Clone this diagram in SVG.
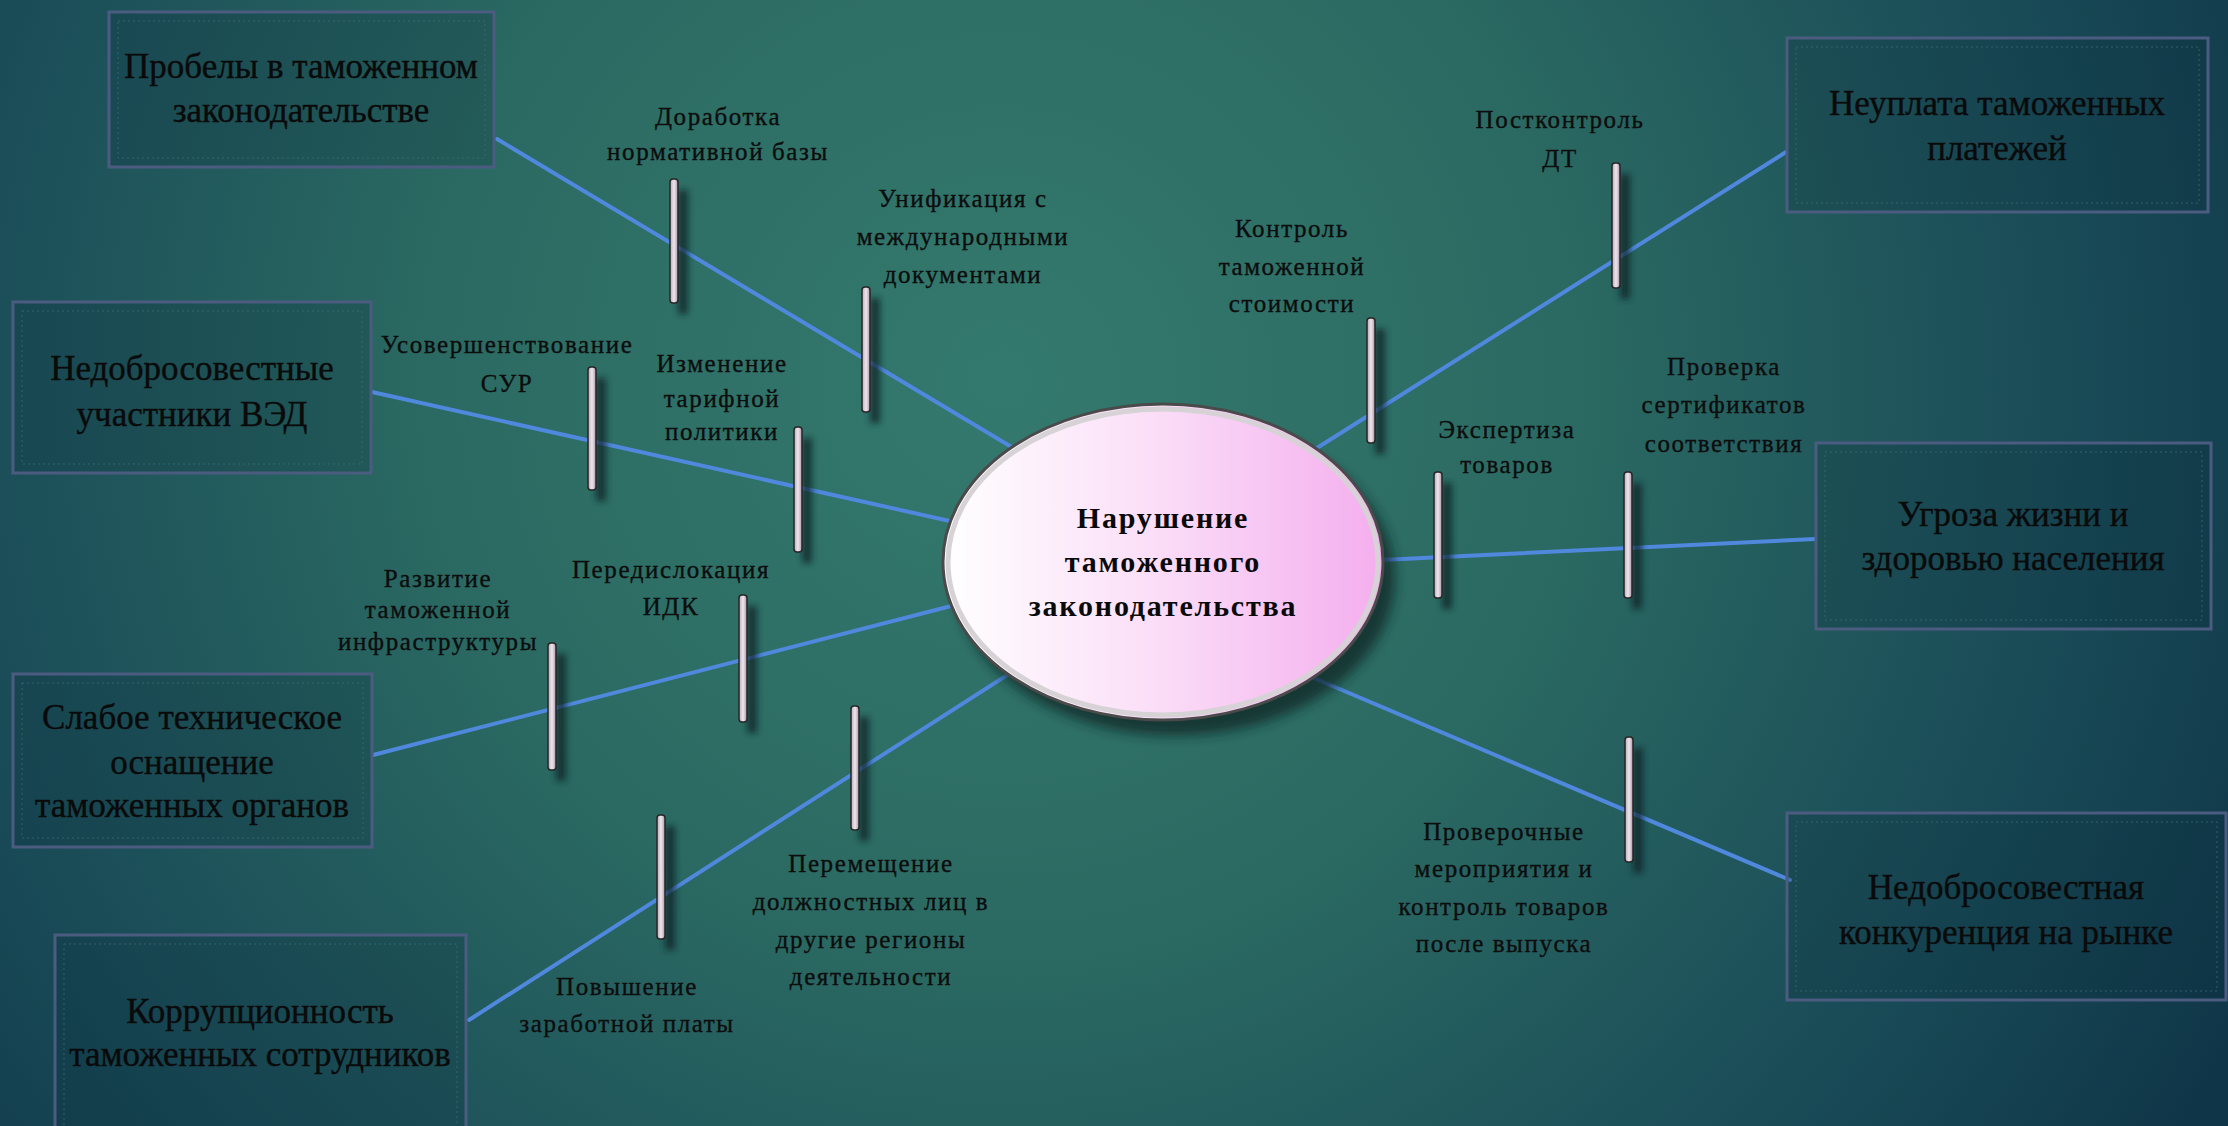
<svg xmlns="http://www.w3.org/2000/svg" width="2228" height="1126" viewBox="0 0 2228 1126">
  <defs>
    <radialGradient id="bg" gradientUnits="userSpaceOnUse" cx="1000" cy="380" r="1400">
      <stop offset="0" stop-color="#34796e"/>
      <stop offset="0.4" stop-color="#2b6a62"/>
      <stop offset="0.75" stop-color="#1a4c58"/>
      <stop offset="1" stop-color="#0f3648"/>
    </radialGradient>
    <linearGradient id="ellFill" x1="0" y1="0" x2="1" y2="0">
      <stop offset="0" stop-color="#ffffff"/>
      <stop offset="0.45" stop-color="#fbe0f8"/>
      <stop offset="1" stop-color="#f4aeee"/>
    </linearGradient>
    <linearGradient id="barFill" x1="0" y1="0" x2="1" y2="0">
      <stop offset="0" stop-color="#b7a8b4"/>
      <stop offset="0.5" stop-color="#efe6ee"/>
      <stop offset="1" stop-color="#a898a6"/>
    </linearGradient>
    <filter id="blur6" x="-50%" y="-50%" width="200%" height="200%">
      <feGaussianBlur stdDeviation="6"/>
    </filter>
    <filter id="blur3" x="-100%" y="-20%" width="300%" height="140%">
      <feGaussianBlur stdDeviation="3"/>
    </filter>
  </defs>
  <style>
    .box { fill: #0a2a36; fill-opacity: 0.22; stroke: #4b5c80; stroke-width: 3; }
    .boxin { fill: none; stroke: #3f6f78; stroke-width: 1; stroke-dasharray: 2 3; opacity: 0.7; }
    .btxt { font-family: "Liberation Serif", "Times New Roman", serif; font-size: 35px; fill: #0a0a0a; stroke: #0a0a0a; stroke-width: 0.4; text-anchor: middle; }
    .ltxt { font-family: "Liberation Serif", "Times New Roman", serif; font-size: 25px; letter-spacing: 1.6px; fill: #0d0d0d; stroke: #0d0d0d; stroke-width: 0.35; text-anchor: middle; }
    .ctxt { font-family: "Liberation Serif", "Times New Roman", serif; font-size: 30px; font-weight: bold; letter-spacing: 1.8px; fill: #0a0a0a; text-anchor: middle; }
    .conn { stroke: #4f88dc; stroke-width: 4; fill: none; stroke-linecap: round; }
    .bar { fill: url(#barFill); stroke: #262626; stroke-width: 1.5; }
    .barsh { fill: #0b2426; opacity: 0.75; filter: url(#blur3); }
  </style>

  <rect x="0" y="0" width="2228" height="1126" fill="url(#bg)"/>

  <g id="connectors">
    <line class="conn" x1="497" y1="139" x2="1040" y2="464"/>
    <line class="conn" x1="372" y1="392" x2="990" y2="530"/>
    <line class="conn" x1="373" y1="755" x2="990" y2="596"/>
    <line class="conn" x1="469" y1="1020" x2="1040" y2="654"/>
    <line class="conn" x1="1786" y1="152" x2="1290" y2="465"/>
    <line class="conn" x1="1815" y1="539" x2="1340" y2="562"/>
    <line class="conn" x1="1790" y1="880" x2="1290" y2="668"/>
  </g>

  <g id="node-center">
    <ellipse cx="1175" cy="578" rx="220" ry="158" fill="#0e2222" opacity="0.7" filter="url(#blur6)"/>
    <ellipse cx="1163" cy="562" rx="220" ry="158" fill="url(#ellFill)" stroke="#4a4a4a" stroke-width="3"/>
    <ellipse cx="1163" cy="562" rx="215" ry="153" fill="none" stroke="#d6d2d6" stroke-width="5"/>
    <text class="ctxt" x="1163" y="528">Нарушение</text>
    <text class="ctxt" x="1163" y="572">таможенного</text>
    <text class="ctxt" x="1163" y="616">законодательства</text>
  </g>

  <g id="node-probely">
    <rect class="box" x="109" y="12" width="385" height="155"/>
    <rect class="boxin" x="118" y="21" width="367" height="137"/>
    <text class="btxt" x="301" y="78">Пробелы в таможенном</text>
    <text class="btxt" x="301" y="122">законодательстве</text>
  </g>
  <g id="node-uchastniki">
    <rect class="box" x="13" y="302" width="358" height="171"/>
    <rect class="boxin" x="22" y="311" width="340" height="153"/>
    <text class="btxt" x="192" y="380">Недобросовестные</text>
    <text class="btxt" x="192" y="426">участники ВЭД</text>
  </g>
  <g id="node-osnaschenie">
    <rect class="box" x="13" y="674" width="359" height="173"/>
    <rect class="boxin" x="22" y="683" width="341" height="155"/>
    <text class="btxt" x="192" y="729">Слабое техническое</text>
    <text class="btxt" x="192" y="774">оснащение</text>
    <text class="btxt" x="192" y="817">таможенных органов</text>
  </g>
  <g id="node-korrupciya">
    <rect class="box" x="55" y="935" width="411" height="200"/>
    <rect class="boxin" x="64" y="944" width="393" height="190"/>
    <text class="btxt" x="260" y="1023">Коррупционность</text>
    <text class="btxt" x="260" y="1066">таможенных сотрудников</text>
  </g>
  <g id="node-neuplata">
    <rect class="box" x="1787" y="38" width="421" height="174"/>
    <rect class="boxin" x="1796" y="47" width="403" height="156"/>
    <text class="btxt" x="1997" y="115">Неуплата таможенных</text>
    <text class="btxt" x="1997" y="160">платежей</text>
  </g>
  <g id="node-ugroza">
    <rect class="box" x="1816" y="443" width="395" height="186"/>
    <rect class="boxin" x="1825" y="452" width="377" height="168"/>
    <text class="btxt" x="2013" y="526">Угроза жизни и</text>
    <text class="btxt" x="2013" y="570">здоровью населения</text>
  </g>
  <g id="node-konkurenciya">
    <rect class="box" x="1787" y="813" width="439" height="187"/>
    <rect class="boxin" x="1796" y="822" width="421" height="169"/>
    <text class="btxt" x="2006" y="899">Недобросовестная</text>
    <text class="btxt" x="2006" y="944">конкуренция на рынке</text>
  </g>

  <g id="measure-dorabotka">
    <rect class="barsh" x="678" y="190" width="10" height="124"/>
    <rect class="bar" x="670" y="179" width="8" height="124" rx="3"/>
    <text class="ltxt" x="718" y="125">Доработка</text>
    <text class="ltxt" x="718" y="160">нормативной базы</text>
  </g>
  <g id="measure-unifikaciya">
    <rect class="barsh" x="870" y="298" width="10" height="125"/>
    <rect class="bar" x="862" y="287" width="8" height="125" rx="3"/>
    <text class="ltxt" x="963" y="207">Унификация с</text>
    <text class="ltxt" x="963" y="245">международными</text>
    <text class="ltxt" x="963" y="283">документами</text>
  </g>
  <g id="measure-sur">
    <rect class="barsh" x="596" y="378" width="10" height="123"/>
    <rect class="bar" x="588" y="367" width="8" height="123" rx="3"/>
    <text class="ltxt" x="507" y="353">Усовершенствование</text>
    <text class="ltxt" x="507" y="392">СУР</text>
  </g>
  <g id="measure-tarif">
    <rect class="barsh" x="802" y="438" width="10" height="125"/>
    <rect class="bar" x="794" y="427" width="8" height="125" rx="3"/>
    <text class="ltxt" x="722" y="372">Изменение</text>
    <text class="ltxt" x="722" y="407">тарифной</text>
    <text class="ltxt" x="722" y="440">политики</text>
  </g>
  <g id="measure-infra">
    <rect class="barsh" x="556" y="654" width="10" height="127"/>
    <rect class="bar" x="548" y="643" width="8" height="127" rx="3"/>
    <text class="ltxt" x="438" y="587">Развитие</text>
    <text class="ltxt" x="438" y="618">таможенной</text>
    <text class="ltxt" x="438" y="650">инфраструктуры</text>
  </g>
  <g id="measure-idk">
    <rect class="barsh" x="747" y="606" width="10" height="127"/>
    <rect class="bar" x="739" y="595" width="8" height="127" rx="3"/>
    <text class="ltxt" x="671" y="578">Передислокация</text>
    <text class="ltxt" x="671" y="615">ИДК</text>
  </g>
  <g id="measure-peremeschenie">
    <rect class="barsh" x="859" y="717" width="10" height="124"/>
    <rect class="bar" x="851" y="706" width="8" height="124" rx="3"/>
    <text class="ltxt" x="871" y="872">Перемещение</text>
    <text class="ltxt" x="871" y="910">должностных лиц в</text>
    <text class="ltxt" x="871" y="948">другие регионы</text>
    <text class="ltxt" x="871" y="985">деятельности</text>
  </g>
  <g id="measure-zarplata">
    <rect class="barsh" x="665" y="826" width="10" height="124"/>
    <rect class="bar" x="657" y="815" width="8" height="124" rx="3"/>
    <text class="ltxt" x="627" y="995">Повышение</text>
    <text class="ltxt" x="627" y="1032">заработной платы</text>
  </g>
  <g id="measure-postkontrol">
    <rect class="barsh" x="1620" y="174" width="10" height="125"/>
    <rect class="bar" x="1612" y="163" width="8" height="125" rx="3"/>
    <text class="ltxt" x="1560" y="128">Постконтроль</text>
    <text class="ltxt" x="1560" y="167">ДТ</text>
  </g>
  <g id="measure-stoimost">
    <rect class="barsh" x="1375" y="329" width="10" height="125"/>
    <rect class="bar" x="1367" y="318" width="8" height="125" rx="3"/>
    <text class="ltxt" x="1292" y="237">Контроль</text>
    <text class="ltxt" x="1292" y="275">таможенной</text>
    <text class="ltxt" x="1292" y="312">стоимости</text>
  </g>
  <g id="measure-ekspertiza">
    <rect class="barsh" x="1442" y="483" width="10" height="126"/>
    <rect class="bar" x="1434" y="472" width="8" height="126" rx="3"/>
    <text class="ltxt" x="1507" y="438">Экспертиза</text>
    <text class="ltxt" x="1507" y="473">товаров</text>
  </g>
  <g id="measure-sertifikaty">
    <rect class="barsh" x="1632" y="483" width="10" height="126"/>
    <rect class="bar" x="1624" y="472" width="8" height="126" rx="3"/>
    <text class="ltxt" x="1724" y="375">Проверка</text>
    <text class="ltxt" x="1724" y="413">сертификатов</text>
    <text class="ltxt" x="1724" y="452">соответствия</text>
  </g>
  <g id="measure-proverochnye">
    <rect class="barsh" x="1633" y="748" width="10" height="125"/>
    <rect class="bar" x="1625" y="737" width="8" height="125" rx="3"/>
    <text class="ltxt" x="1504" y="840">Проверочные</text>
    <text class="ltxt" x="1504" y="877">мероприятия и</text>
    <text class="ltxt" x="1504" y="915">контроль товаров</text>
    <text class="ltxt" x="1504" y="952">после выпуска</text>
  </g>
</svg>
